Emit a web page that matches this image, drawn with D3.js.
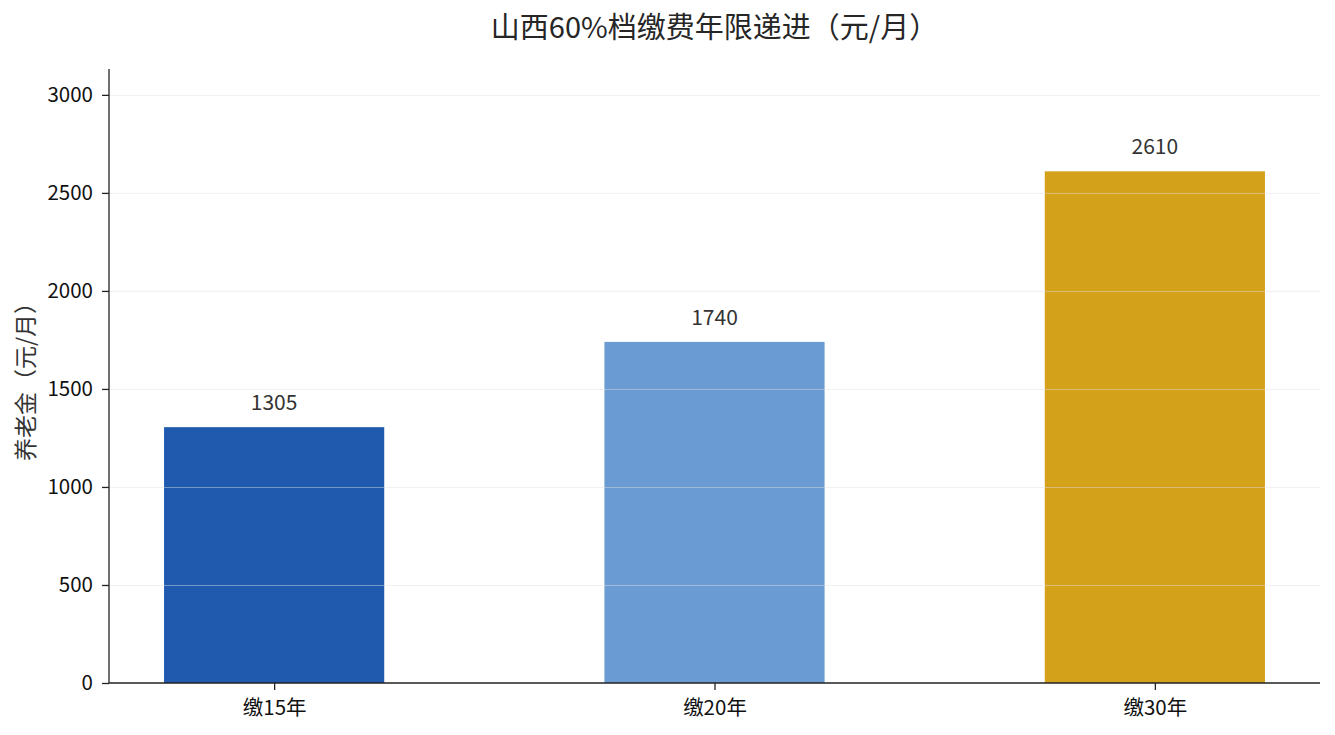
<!DOCTYPE html>
<html>
<head>
<meta charset="utf-8">
<script src="https://cdn.jsdelivr.net/npm/d3@7"></script>
<style>
  body { margin: 0; background: #fff; }
  text { font-family: "Noto Sans CJK SC", "Noto Sans", sans-serif; }
</style>
</head>
<body>
<div id="chart"></div>
<script>

var categories = ['缴15年', '缴20年', '缴30年'];
var values = [1305, 1740, 2610];
var colors = ['#1f5aae', '#6b9bd3', '#d4a11a'];
var y_ticks = [0, 500, 1000, 1500, 2000, 2500, 3000];

var outer_width = 1335, outer_height = 735;
var margin = { top: 69, left: 109, right: 15, bottom: 52 };
var width = outer_width - margin.left - margin.right;
var height = outer_height - margin.top - margin.bottom;

var sx = d3.scaleLinear()
    .domain([-0.375, categories.length - 1 + 0.375])
    .range([0, width]);
var sy = d3.scaleLinear()
    .domain([0, d3.max(values) * 1.2])
    .range([height, 0]);
var bar_w = sx(0.5) - sx(0);

var svg = d3.select('#chart').append('svg')
    .attr('width', outer_width)
    .attr('height', outer_height);

svg.append('text')
    .attr('x', margin.left + width / 2)
    .attr('y', 38)
    .attr('text-anchor', 'middle')
    .attr('font-size', 29)
    .attr('fill', '#262626')
    .text('山西60%档缴费年限递进（元/月）');

var g = svg.append('g')
    .attr('transform', 'translate(' + margin.left + ', ' + margin.top + ')');

// bars
g.selectAll('.bar').data(values).enter()
    .append('rect')
    .attr('class', 'bar')
    .attr('x', function(d, i) { return sx(i) - bar_w / 2; })
    .attr('y', function(d) { return sy(d); })
    .attr('width', bar_w)
    .attr('height', function(d) { return height - sy(d); })
    .attr('fill', function(d, i) { return colors[i]; });

// grid on top of the bars
g.selectAll('.grid').data(y_ticks.slice(1)).enter()
    .append('line')
    .attr('class', 'grid')
    .attr('x1', 0)
    .attr('x2', width)
    .attr('y1', function(d) { return sy(d) + 0.5; })
    .attr('y2', function(d) { return sy(d) + 0.5; })
    .attr('stroke', '#e0e0e0')
    .attr('stroke-opacity', 0.6)
    .attr('stroke-width', 0.8);

// value labels
g.selectAll('.val').data(values).enter()
    .append('text')
    .attr('class', 'val')
    .attr('x', function(d, i) { return sx(i); })
    .attr('y', function(d) { return sy(d) - 17; })
    .attr('text-anchor', 'middle')
    .attr('font-size', 21)
    .attr('fill', '#333')
    .text(function(d) { return d; });

var ay = d3.axisLeft(sy)
    .tickValues(y_ticks)
    .tickFormat(d3.format('d'))
    .tickSize(7)
    .tickPadding(9);
var ax = d3.axisBottom(sx)
    .tickValues(d3.range(categories.length))
    .tickFormat(function(i) { return categories[i]; })
    .tickSize(7)
    .tickPadding(10);

var gy = g.append('g').call(ay);
var gx = g.append('g')
    .attr('transform', 'translate(0, ' + height + ')')
    .call(ax);

[gx, gy].forEach(function(a) {
    a.select('.domain').attr('stroke', '#222').attr('stroke-width', 1.3);
    a.selectAll('.tick line').attr('stroke', '#222').attr('stroke-width', 1.3);
    a.selectAll('.tick text')
        .attr('font-size', 20.5)
        .attr('fill', '#111')
        .style('font-family', '"Noto Sans CJK SC", sans-serif');
});
gy.select('.domain').attr('d', 'M0,' + height + 'V0');
gx.select('.domain').attr('d', 'M0,0H' + width);

svg.append('text')
    .attr('transform', 'translate(34, ' + (margin.top + height / 2) + ') rotate(-90)')
    .attr('text-anchor', 'middle')
    .attr('font-size', 23)
    .attr('fill', '#333')
    .text('养老金（元/月）');

</script>
</body>
</html>
